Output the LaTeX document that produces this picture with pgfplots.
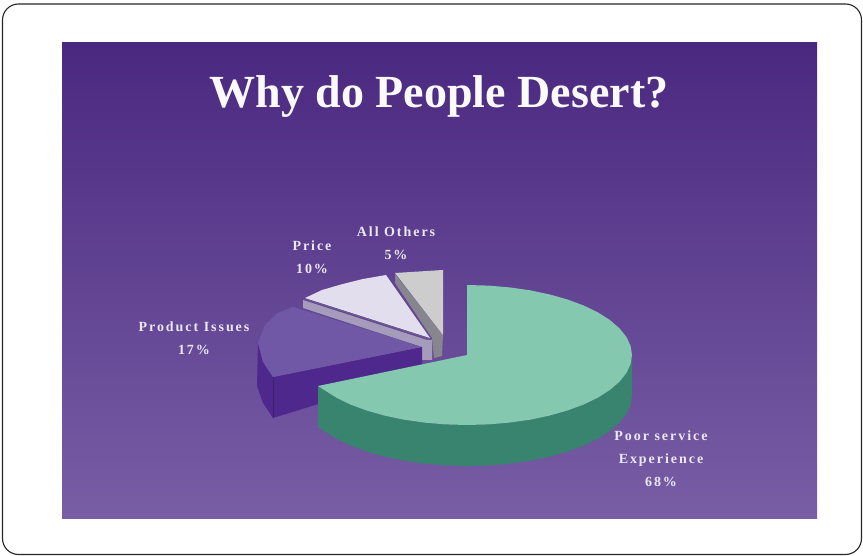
\documentclass[border=0pt]{standalone}
\usepackage{pgfplots}
\pgfplotsset{compat=1.18}
\usepackage{fontspec}
\setmainfont{Liberation Serif}
\newfontfamily\labfont[LetterSpace=14]{Liberation Serif}
\definecolor{bgtop}{RGB}{74,40,128}
\definecolor{bgmid}{RGB}{97,72,151}
\definecolor{bgbot}{RGB}{120,94,165}
\definecolor{greentop}{RGB}{132,200,175}
\definecolor{greenside}{RGB}{56,132,110}
\definecolor{prodtop}{RGB}{112,88,166}
\definecolor{prodside}{RGB}{78,40,140}
\definecolor{pricetop}{RGB}{226,222,238}
\definecolor{priceside}{RGB}{165,155,187}
\definecolor{othertop}{RGB}{205,205,205}
\definecolor{otherside}{RGB}{135,133,142}
\definecolor{labtext}{RGB}{236,232,242}
\tikzset{lab/.style={font=\labfont\bfseries\fontsize{14}{23}\selectfont, text=labtext, align=center, inner sep=0pt}}
\begin{document}
\begin{tikzpicture}
\begin{axis}[
    scale only axis, width=863pt, height=556pt,
    xmin=0, xmax=863, ymin=0, ymax=556,
    y dir=reverse, hide axis, clip=false,
]
% keeps the page at the full 863x556
\addplot[draw=none] coordinates {(0,0)(863,556)};
% frame
\addplot[black!85, line width=1.1pt, rounded corners=16pt] coordinates {
  (2.5,4)(861.5,4)(861.5,554.5)(2.5,554.5)} -- cycle;
% background
\addplot[draw=none, top color=bgtop, middle color=bgmid, bottom color=bgbot] coordinates {
  (62,43)(817,43)(817,518)(62,518)} -- cycle;

% all others 5%
\addplot[draw=none, fill=otherside] coordinates {
  (395,274)(443,335)(442,356)(434,358)(432,338)(395,283)} -- cycle;
\addplot[draw=none, fill=othertop] coordinates {
  (395,273)(419,271.5)(443,270)(443,335)} -- cycle;

% price 10%
\addplot[draw=none, fill=priceside] coordinates {
  (303,300)(427,340)(432,340)(432,360)(422,360)(422,347)(303,308)} -- cycle;
\addplot[draw=none, fill=pricetop] coordinates {
  (305,298)(322,290)(341,284.5)(363,279)(386,275)(430,338)} -- cycle;
\addplot[priceside!70!black, line width=0.4pt] coordinates {(305,299)(430,339)};

% product issues 17%
\addplot[draw=none, fill=prodside] coordinates {
  (258,343)(263,362)(273,377)(422,347)(422,372)(273,418)(263,403)(257,386)} -- cycle;
\addplot[prodside!80!black, line width=0.5pt] coordinates {(273,377)(273,418)};
\addplot[draw=none, fill=prodtop] coordinates {
  (293,307)(277,313)(265,325)(258,343)(263,362)(273,377)(422,347)} -- cycle;

% poor service 68%
\addplot[draw=none, fill=greenside] coordinates {
  (632,355)(630.6,364.1)(626.4,373.1)(619.4,381.8)(609.9,390)(597.9,397.6)
  (583.7,404.5)(567.5,410.5)(549.5,415.6)(530.1,419.7)(509.7,422.6)(488.5,424.4)
  (467,425)(445.5,424.4)(424.3,422.6)(403.9,419.7)(384.5,415.6)(366.5,410.5)
  (350.3,404.5)(336.1,397.6)(324.1,390)(318,386)
  (318,427)(324.1,431)(336.1,438.6)(350.3,445.5)(366.5,451.5)(384.5,456.6)
  (403.9,460.7)(424.3,463.6)(445.5,465.4)(467,466)(488.5,465.4)(509.7,463.6)
  (530.1,460.7)(549.5,456.6)(567.5,451.5)(583.7,445.5)(597.9,438.6)(609.9,431)
  (619.4,422.8)(626.4,414.1)(630.6,405.1)(632,396)} -- cycle;
\addplot[draw=none, fill=greentop] coordinates {
  (467,355)(467,285)(488.5,285.6)(509.7,287.4)(530.1,290.3)(549.5,294.4)(567.5,299.5)
  (583.7,305.5)(597.9,312.4)(609.9,320)(619.4,328.2)(626.4,336.9)(630.6,345.9)
  (632,355)(630.6,364.1)(626.4,373.1)(619.4,381.8)(609.9,390)(597.9,397.6)
  (583.7,404.5)(567.5,410.5)(549.5,415.6)(530.1,419.7)(509.7,422.6)(488.5,424.4)
  (467,425)(445.5,424.4)(424.3,422.6)(403.9,419.7)(384.5,415.6)(366.5,410.5)
  (350.3,404.5)(336.1,397.6)(324.1,390)(318,386)} -- cycle;

% title and labels
\node[font=\rmfamily\bfseries\fontsize{46}{50}\selectfont, text=white!96!bgbot] at (axis cs:439,97) {Why do People Desert?};
\node[lab] at (axis cs:396,243) {All Others\\5\%};
\node[lab] at (axis cs:312,257) {Price\\10\%};
\node[lab] at (axis cs:194,338) {Product Issues\\17\%};
\node[lab] at (axis cs:661,459) {Poor service\\Experience\\68\%};
\end{axis}
\end{tikzpicture}
\end{document}
